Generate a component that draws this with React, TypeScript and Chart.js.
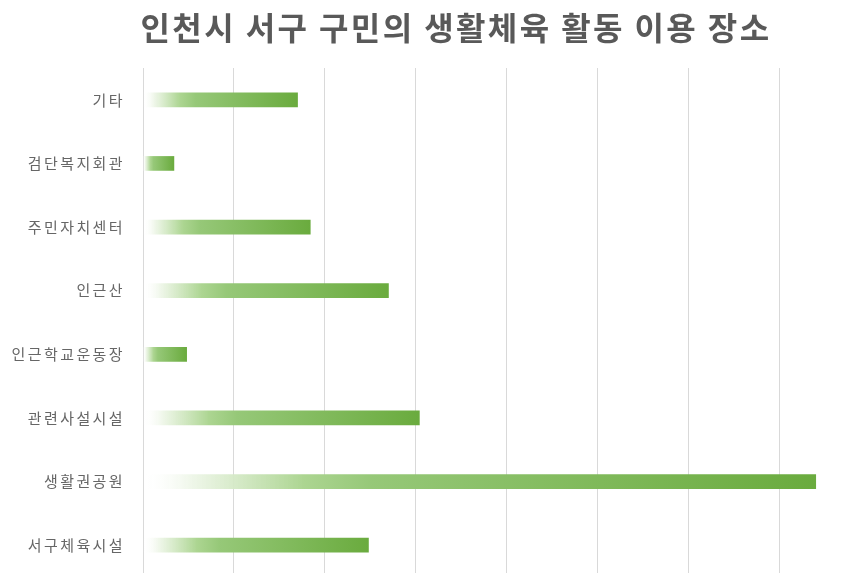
import React, { useEffect, useRef } from "react";
import { Chart, registerables } from "chart.js";

Chart.register(...registerables);

const titleText = "인천시 서구 구민의 생활체육 활동 이용 장소";
const categories = [
  "기타",
  "검단복지회관",
  "주민자치센터",
  "인근산",
  "인근학교운동장",
  "관련사설시설",
  "생활권공원",
  "서구체육시설",
];
const values = [8.5, 1.7, 9.2, 13.5, 2.4, 15.2, 37.0, 12.4];
const axisMax = 39.6;
const axisStep = 5;

const spacingPlugin = {
  id: "letterSpacing",
  beforeDraw(chart: any) {
    (chart.ctx as any).letterSpacing = "2.4px";
  },
  afterDraw(chart: any) {
    const ctx = chart.ctx as any;
    ctx.save();
    ctx.letterSpacing = "2.4px";
    ctx.font = "bold 32px 'Noto Sans CJK KR', sans-serif";
    ctx.fillStyle = "#595959";
    ctx.textAlign = "center";
    ctx.textBaseline = "middle";
    ctx.fillText(titleText, 456, 28);
    ctx.restore();
    ctx.letterSpacing = "0px";
  },
};

export default function App() {
  const ref = useRef<HTMLCanvasElement | null>(null);

  useEffect(() => {
    const canvas = ref.current;
    if (!canvas) return;
    const chart = new Chart(canvas, {
      type: "bar",
      data: {
        labels: categories,
        datasets: [
          {
            data: values,
            barThickness: 14,
            borderWidth: 0,
            backgroundColor: (ctx: any) => {
              const c = ctx.chart;
              const scales = c.scales;
              if (!c.chartArea || !scales || !scales.x || typeof ctx.raw !== "number") return "#70ad47";
              const x0 = scales.x.getPixelForValue(0);
              const x1 = scales.x.getPixelForValue(ctx.raw);
              if (!isFinite(x0) || !isFinite(x1) || x1 - x0 < 1) return "#70ad47";
              const g = c.ctx.createLinearGradient(x0, 0, x1, 0);
              g.addColorStop(0, "rgba(255,255,255,0)");
              g.addColorStop(0.07, "rgba(238,246,232,0.9)");
              g.addColorStop(0.24, "#acd591");
              g.addColorStop(0.34, "#96c878");
              g.addColorStop(1, "#6aab3e");
              return g;
            },
          },
        ],
      },
      options: {
        indexAxis: "y",
        responsive: false,
        animation: false,
        layout: { padding: { left: 0, right: 0, top: 68, bottom: 0 } },
        plugins: {
          legend: { display: false },
          tooltip: { enabled: false },
          title: { display: false },
        },
        scales: {
          x: {
            min: 0,
            max: axisMax,
            afterFit: (scale: any) => {
              scale.height = 0;
              scale.paddingLeft = 0;
              scale.paddingRight = 0;
            },
            ticks: { display: false, stepSize: axisStep, includeBounds: false },
            grid: { color: "#d9d9d9", lineWidth: 1, drawTicks: false },
            border: { display: false },
          },
          y: {
            afterFit: (scale: any) => {
              scale.width = 143;
              scale.paddingTop = 0;
              scale.paddingBottom = 0;
            },
            ticks: {
              color: "#666666",
              padding: 18,
              font: { family: "'Noto Sans CJK KR', sans-serif", size: 15 },
            },
            grid: { display: false, drawTicks: false },
            border: { display: false },
          },
        },
      },
      plugins: [spacingPlugin],
    } as any);
    return () => chart.destroy();
  }, []);

  return (
    <div
      style={{
        position: "fixed",
        left: 0,
        top: 0,
        width: 863,
        height: 573,
        overflow: "hidden",
        background: "#ffffff",
      }}
    >
      <canvas
        ref={ref}
        width={863}
        height={577}
        role="img"
        aria-label={titleText}
        style={{ display: "block", width: 863, height: 577 }}
      />
    </div>
  );
}
